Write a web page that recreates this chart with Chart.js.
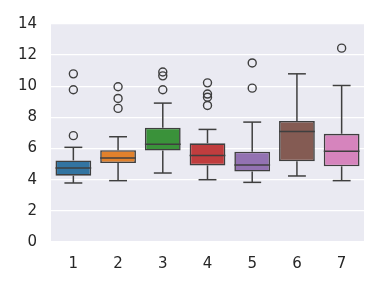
<!DOCTYPE html>
<html>
<head>
<meta charset="utf-8">
<script src="https://cdn.jsdelivr.net/npm/chart.js@4"></script>
<style>
  html, body { margin: 0; padding: 0; background: #fff; }
  #wrap { width: 382px; height: 287px; }
</style>
</head>
<body>
<div id="wrap"><canvas id="boxChart" width="382" height="287"></canvas></div>
<script>
const labels = ['1', '2', '3', '4', '5', '6', '7'];
const whiskerLow = [3.79, 3.94, 4.43, 4.00, 3.83, 4.24, 3.94];
const q1 = [4.26, 5.07, 5.87, 4.92, 4.52, 5.18, 4.86];
const median = [4.75, 5.39, 6.27, 5.55, 4.95, 7.10, 5.82];
const q3 = [5.24, 5.90, 7.34, 6.34, 5.80, 7.77, 6.95];
const whiskerHigh = [6.08, 6.76, 8.92, 7.23, 7.70, 10.80, 10.05];
const outliers = [
  [6.83, 9.78, 10.80],
  [8.58, 9.22, 9.97],
  [9.78, 10.67, 10.92],
  [8.77, 9.30, 9.50, 10.22],
  [9.88, 11.50],
  [],
  [12.45]
];
const yTicks = [0, 2, 4, 6, 8, 10, 12, 14];

const colors = ['#3274a1', '#e1812c', '#3a923a', '#c03d3e', '#9372b2', '#845b53', '#d684bd'];
const lineColor = '#3f3f3f';
const $ = id => document.getElementById(id);

const outlierPoints = [];
outliers.forEach((vals, i) => vals.forEach(v => outlierPoints.push({ x: labels[i], y: v })));

// seaborn-ish grey panel behind the grid
const panelBg = {
  id: 'panelBg',
  beforeDraw(chart) {
    const { ctx, chartArea: a } = chart;
    ctx.save();
    ctx.fillStyle = '#eaeaf2';
    ctx.fillRect(a.left, a.top, a.right - a.left, a.bottom - a.top);
    ctx.restore();
  }
};

// whiskers, caps and median lines
const boxLines = {
  id: 'boxLines',
  afterDatasetsDraw(chart) {
    const { ctx, scales: { x, y } } = chart;
    const bars = chart.getDatasetMeta(0).data;
    ctx.save();
    ctx.strokeStyle = lineColor;
    ctx.lineWidth = 1.5;
    labels.forEach((lab, i) => {
      const cx = x.getPixelForValue(i);
      const w = bars[i].width;
      const line = (x0, y0, x1, y1) => { ctx.beginPath(); ctx.moveTo(x0, y0); ctx.lineTo(x1, y1); ctx.stroke(); };
      line(cx, y.getPixelForValue(q1[i]), cx, y.getPixelForValue(whiskerLow[i]));
      line(cx, y.getPixelForValue(q3[i]), cx, y.getPixelForValue(whiskerHigh[i]));
      line(cx - w / 4, y.getPixelForValue(whiskerLow[i]), cx + w / 4, y.getPixelForValue(whiskerLow[i]));
      line(cx - w / 4, y.getPixelForValue(whiskerHigh[i]), cx + w / 4, y.getPixelForValue(whiskerHigh[i]));
      line(cx - w / 2, y.getPixelForValue(median[i]), cx + w / 2, y.getPixelForValue(median[i]));
    });
    ctx.restore();
  }
};

new Chart($('boxChart').getContext('2d'), {
  type: 'bar',
  data: {
    labels,
    datasets: [
      {
        data: labels.map((_, i) => [q1[i], q3[i]]),
        backgroundColor: colors,
        borderColor: lineColor,
        borderWidth: 1.6,
        borderSkipped: false,
        barPercentage: 0.8,
        categoryPercentage: 1.0
      },
      {
        type: 'line',
        data: outlierPoints,
        showLine: false,
        pointRadius: 4,
        pointBorderWidth: 1.4,
        pointBackgroundColor: 'rgba(0,0,0,0)',
        pointBorderColor: lineColor
      }
    ]
  },
  options: {
    responsive: false,
    animation: false,
    layout: { padding: { top: 24, right: 18, left: 0, bottom: 0 } },
    plugins: { legend: { display: false }, tooltip: { enabled: false } },
    scales: {
      x: {
        offset: true,
        grid: { display: false },
        border: { display: false },
        ticks: { color: '#262626', font: { family: 'DejaVu Sans', size: 15 }, padding: 5 },
        afterFit: s => { s.height = 45; }
      },
      y: {
        min: 0,
        max: 14,
        afterBuildTicks: s => { s.ticks = yTicks.map(v => ({ value: v })); },
        grid: { color: '#ffffff', lineWidth: 1.3, drawTicks: false },
        border: { display: false },
        ticks: { color: '#262626', font: { family: 'DejaVu Sans', size: 15 }, padding: 14 },
        afterFit: s => { s.width = 51; }
      }
    }
  },
  plugins: [panelBg, boxLines]
});
</script>
</body>
</html>
